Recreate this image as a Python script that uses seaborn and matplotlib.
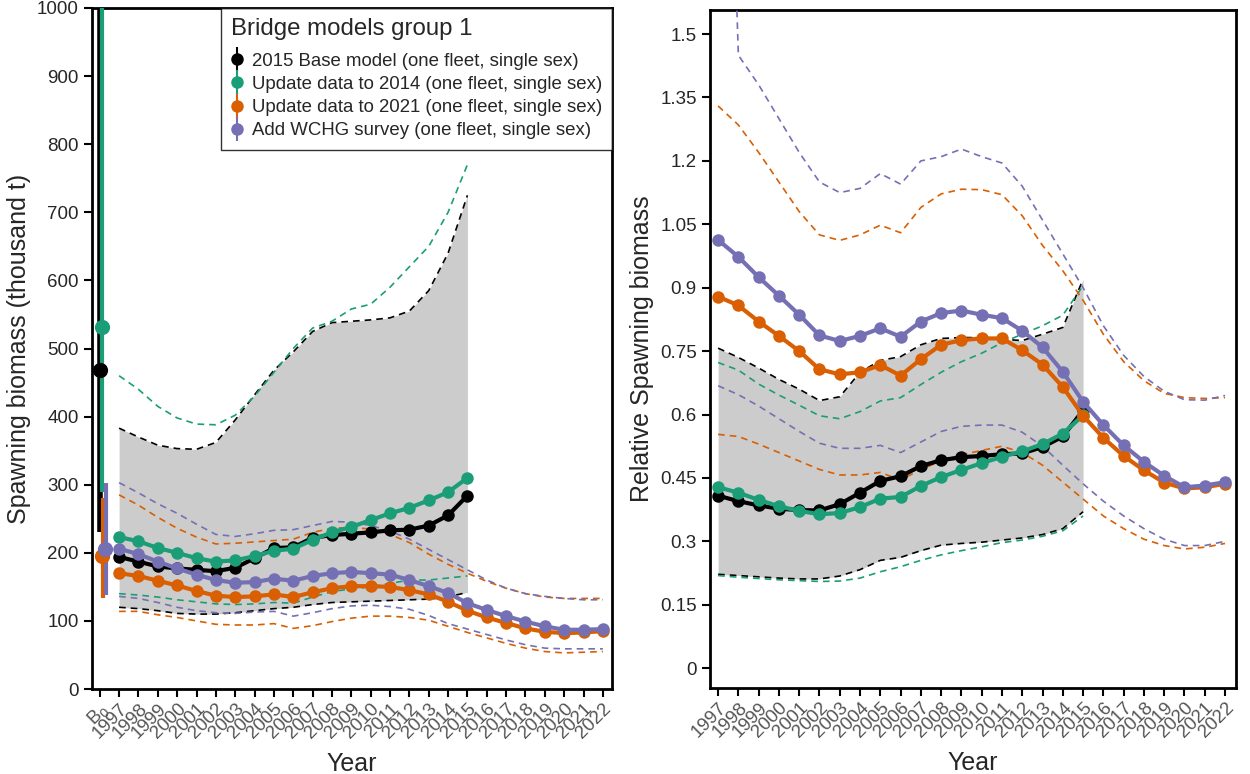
import numpy as np
import pandas as pd
import matplotlib
matplotlib.use("Agg")
import matplotlib.pyplot as plt
from matplotlib.lines import Line2D
from matplotlib.legend_handler import HandlerTuple
import seaborn as sns

sns.set_style("ticks")
plt.rcParams['font.family'] = ['Liberation Sans', 'DejaVu Sans']

# ---------------- data ----------------
yrs_hist = list(range(1997, 2016))
yrs_all = list(range(1997, 2023))
x_labels_left = ["B$_0$"] + [str(y) for y in yrs_all]

model_names = ["2015 Base model (one fleet, single sex)",
               "Update data to 2014 (one fleet, single sex)",
               "Update data to 2021 (one fleet, single sex)",
               "Add WCHG survey (one fleet, single sex)"]
model_colors = ["#000000", "#1B9E77", "#D95F02", "#7570B3"]

# B0 estimates (thousand t) with interval
b0_est = [468, 531, 195, 205]
b0_low = [230, 290, 133, 138]
b0_high = [1500, 1600, 280, 302]

# Spawning biomass (thousand t)
sb_base = [194, 187, 180, 177, 175, 173, 178, 192, 207, 208, 222, 226, 228, 230, 233, 234, 240, 255, 284]
sb_base_hi = [383, 370, 358, 353, 352, 362, 395, 432, 468, 495, 525, 538, 540, 542, 545, 555, 585, 640, 725]
sb_base_lo = [120, 118, 115, 111, 110, 110, 112, 115, 118, 120, 124, 127, 128, 129, 130, 131, 132, 135, 142]

sb_up14 = [223, 217, 207, 200, 192, 187, 189, 195, 203, 206, 219, 230, 238, 248, 258, 266, 277, 289, 310]
sb_up14_hi = [460, 440, 415, 398, 389, 388, 402, 430, 465, 500, 530, 540, 558, 565, 590, 620, 650, 700, 770]
sb_up14_lo = [140, 138, 135, 131, 128, 125, 124, 125, 127, 126, 135, 143, 147, 150, 155, 160, 160, 163, 166]

sb_up21 = [170, 166, 159, 152, 144, 137, 135, 136, 139, 135, 142, 148, 151, 151, 150, 145, 139, 128, 115, 105,
           97, 89, 84, 82, 83, 85]
sb_up21_hi = [285, 270, 252, 236, 223, 213, 214, 216, 218, 220, 230, 236, 237, 235, 227, 215, 198, 183, 170, 158,
              148, 140, 135, 133, 133, 133]
sb_up21_lo = [114, 114, 109, 105, 100, 95, 94, 94, 96, 89, 93, 99, 104, 107, 107, 105, 101, 92, 83, 75,
              67, 60, 55, 53, 54, 55]

sb_wchg = [206, 198, 187, 177, 168, 160, 156, 157, 162, 159, 166, 170, 172, 170, 168, 160, 151, 141, 126, 116,
           107, 99, 92, 87, 87, 88]
sb_wchg_hi = [303, 288, 272, 258, 242, 227, 224, 228, 233, 234, 240, 246, 245, 240, 232, 220, 205, 190, 175, 160,
              148, 140, 136, 133, 131, 131]
sb_wchg_lo = [136, 133, 127, 120, 115, 112, 111, 113, 114, 107, 112, 118, 122, 123, 121, 117, 108, 96, 88, 80,
              72, 65, 60, 59, 59, 59]

# Relative spawning biomass
rel_base = [0.408, 0.395, 0.385, 0.377, 0.374, 0.373, 0.388, 0.415, 0.443, 0.454, 0.478, 0.492, 0.499, 0.502,
            0.506, 0.508, 0.523, 0.548, 0.610]
rel_base_hi = [0.757, 0.735, 0.710, 0.683, 0.660, 0.633, 0.642, 0.700, 0.728, 0.737, 0.765, 0.780, 0.782, 0.782,
               0.778, 0.775, 0.790, 0.806, 0.920]
rel_base_lo = [0.222, 0.219, 0.216, 0.213, 0.211, 0.211, 0.218, 0.233, 0.255, 0.262, 0.278, 0.291, 0.295, 0.298,
               0.303, 0.308, 0.316, 0.330, 0.370]

rel_up14 = [0.428, 0.415, 0.398, 0.383, 0.372, 0.364, 0.367, 0.381, 0.401, 0.405, 0.431, 0.452, 0.469, 0.485,
            0.500, 0.513, 0.530, 0.555, 0.598]
rel_up14_hi = [0.723, 0.705, 0.672, 0.646, 0.622, 0.597, 0.590, 0.607, 0.632, 0.640, 0.671, 0.700, 0.725, 0.745,
               0.770, 0.790, 0.810, 0.835, 0.905]
rel_up14_lo = [0.219, 0.215, 0.212, 0.209, 0.207, 0.205, 0.206, 0.213, 0.228, 0.240, 0.255, 0.268, 0.278, 0.287,
               0.297, 0.303, 0.312, 0.325, 0.360]

rel_up21 = [0.879, 0.858, 0.820, 0.786, 0.750, 0.707, 0.695, 0.700, 0.717, 0.692, 0.731, 0.765, 0.776, 0.780,
            0.780, 0.752, 0.718, 0.665, 0.597, 0.545, 0.502, 0.468, 0.439, 0.425, 0.428, 0.436]
rel_up21_hi = [1.330, 1.285, 1.220, 1.150, 1.080, 1.025, 1.012, 1.025, 1.048, 1.030, 1.090, 1.122, 1.133, 1.132,
               1.120, 1.070, 1.000, 0.940, 0.870, 0.790, 0.725, 0.680, 0.650, 0.640, 0.638, 0.640]
rel_up21_lo = [0.553, 0.548, 0.530, 0.510, 0.490, 0.470, 0.457, 0.457, 0.463, 0.445, 0.470, 0.490, 0.505, 0.515,
               0.525, 0.510, 0.480, 0.440, 0.400, 0.360, 0.330, 0.305, 0.290, 0.282, 0.286, 0.295]

rel_wchg = [1.013, 0.973, 0.925, 0.881, 0.836, 0.787, 0.774, 0.786, 0.804, 0.784, 0.820, 0.840, 0.846, 0.836,
            0.828, 0.798, 0.759, 0.701, 0.630, 0.575, 0.527, 0.488, 0.455, 0.428, 0.432, 0.440]
rel_wchg_hi = [2.900, 1.450, 1.380, 1.300, 1.220, 1.150, 1.125, 1.135, 1.170, 1.145, 1.200, 1.210, 1.228, 1.210,
               1.195, 1.140, 1.060, 0.980, 0.900, 0.810, 0.740, 0.690, 0.655, 0.635, 0.634, 0.645]
rel_wchg_lo = [0.668, 0.647, 0.620, 0.590, 0.560, 0.532, 0.520, 0.520, 0.527, 0.510, 0.535, 0.560, 0.572, 0.575,
               0.575, 0.558, 0.525, 0.480, 0.436, 0.395, 0.360, 0.330, 0.305, 0.290, 0.290, 0.300]

# ---------------- figure ----------------
fig = plt.figure(figsize=(12.5, 7.74), dpi=100)
axL = fig.add_axes([92/1250, 1-689/774, 520/1250, 681/774])
axR = fig.add_axes([710/1250, 1-688/774, 526/1250, 678/774])

tick_col = "#555555"
b0_offsets = [0.0, 0.12, 0.17, 0.33]
b0_pt_offsets = [0.0, 0.12, 0.12, 0.28]


def draw_panel(ax, series, fill_hi, fill_lo):
    ax.fill_between(yrs_hist, fill_lo, fill_hi, color="#cccccc", lw=0, zorder=1)
    for yrs, mid, hi, lo, c in series:
        for band in (hi, lo):
            sns.lineplot(x=yrs, y=band, ax=ax, color=c, linewidth=1.2,
                         linestyle=(0, (4, 3)), zorder=3)
    for yrs, mid, hi, lo, c in series:
        sns.lineplot(x=yrs, y=mid, ax=ax, color=c, linewidth=3, marker="o",
                     markersize=9, markeredgewidth=0, zorder=5)


series_L = [(yrs_hist, sb_base, sb_base_hi, sb_base_lo, model_colors[0]),
            (yrs_hist, sb_up14, sb_up14_hi, sb_up14_lo, model_colors[1]),
            (yrs_all, sb_up21, sb_up21_hi, sb_up21_lo, model_colors[2]),
            (yrs_all, sb_wchg, sb_wchg_hi, sb_wchg_lo, model_colors[3])]
series_R = [(yrs_hist, rel_base, rel_base_hi, rel_base_lo, model_colors[0]),
            (yrs_hist, rel_up14, rel_up14_hi, rel_up14_lo, model_colors[1]),
            (yrs_all, rel_up21, rel_up21_hi, rel_up21_lo, model_colors[2]),
            (yrs_all, rel_wchg, rel_wchg_hi, rel_wchg_lo, model_colors[3])]

draw_panel(axL, series_L, sb_base_hi, sb_base_lo)
draw_panel(axR, series_R, rel_base_hi, rel_base_lo)

# B0 points with intervals
b0_lw = [4, 3, 3, 3]
for i in range(4):
    axL.vlines(1996 + b0_offsets[i], b0_low[i], b0_high[i], color=model_colors[i],
               lw=b0_lw[i], zorder=6)
    sns.scatterplot(x=[1996 + b0_pt_offsets[i]], y=[b0_est[i]], ax=axL, color=model_colors[i],
                    s=120, linewidth=0, zorder=7)

# axes formatting
axL.set_xlim(1995.6, 2022.47)
axL.set_ylim(0, 1000)
axL.set_yticks(np.arange(0, 1001, 100))
axL.set_xticks([1996] + yrs_all)
axL.set_xticklabels(x_labels_left)
axL.set_ylabel("Spawning biomass (thousand t)", fontsize=18)

axR.set_xlim(1996.6, 2022.54)
axR.set_ylim(-0.047, 1.557)
axR.set_yticks(np.round(np.arange(0, 1.51, 0.15), 2))
axR.set_yticklabels(["0", "0.15", "0.3", "0.45", "0.6", "0.75", "0.9", "1.05", "1.2", "1.35", "1.5"])
axR.set_xticks(yrs_all)
axR.set_xticklabels([str(y) for y in yrs_all])
axR.set_ylabel("Relative Spawning biomass", fontsize=18)

for ax in (axL, axR):
    ax.set_xlabel("Year", fontsize=18, labelpad=7)
    for s in ax.spines.values():
        s.set_visible(True)
        s.set_linewidth(2)
        s.set_color("black")
    ax.tick_params(axis="both", direction="out", length=6, width=1.5, color="black")
    ax.tick_params(axis="y", labelsize=13.5)
    ax.tick_params(axis="x", labelsize=13.5, labelcolor=tick_col, pad=2)
    for lab in ax.get_xticklabels():
        lab.set_rotation(45)
        lab.set_ha("right")
        lab.set_rotation_mode("anchor")
    ax.grid(False)

# legend
handles = [(Line2D([], [], color=c, marker="|", markersize=17, markeredgewidth=1.5, linestyle="none"),
            Line2D([], [], color=c, marker="o", markersize=9, markeredgewidth=0, linestyle="none"))
           for c in model_colors]
leg = axL.legend(handles, model_names, title="Bridge models group 1", loc="upper right",
                 bbox_to_anchor=(1.0, 1.0), borderaxespad=0, fontsize=13.4, title_fontsize=17.3,
                 handler_map={tuple: HandlerTuple(ndivide=1)}, handlelength=0.6,
                 handletextpad=0.5, labelspacing=0.33, frameon=True, fancybox=False,
                 borderpad=0.55)
leg.get_frame().set_edgecolor("black")
leg.get_frame().set_linewidth(1)
leg._legend_box.align = "left"
leg._legend_box.sep = 9
leg.set_zorder(10)

fig.savefig("out.png", dpi=100)
